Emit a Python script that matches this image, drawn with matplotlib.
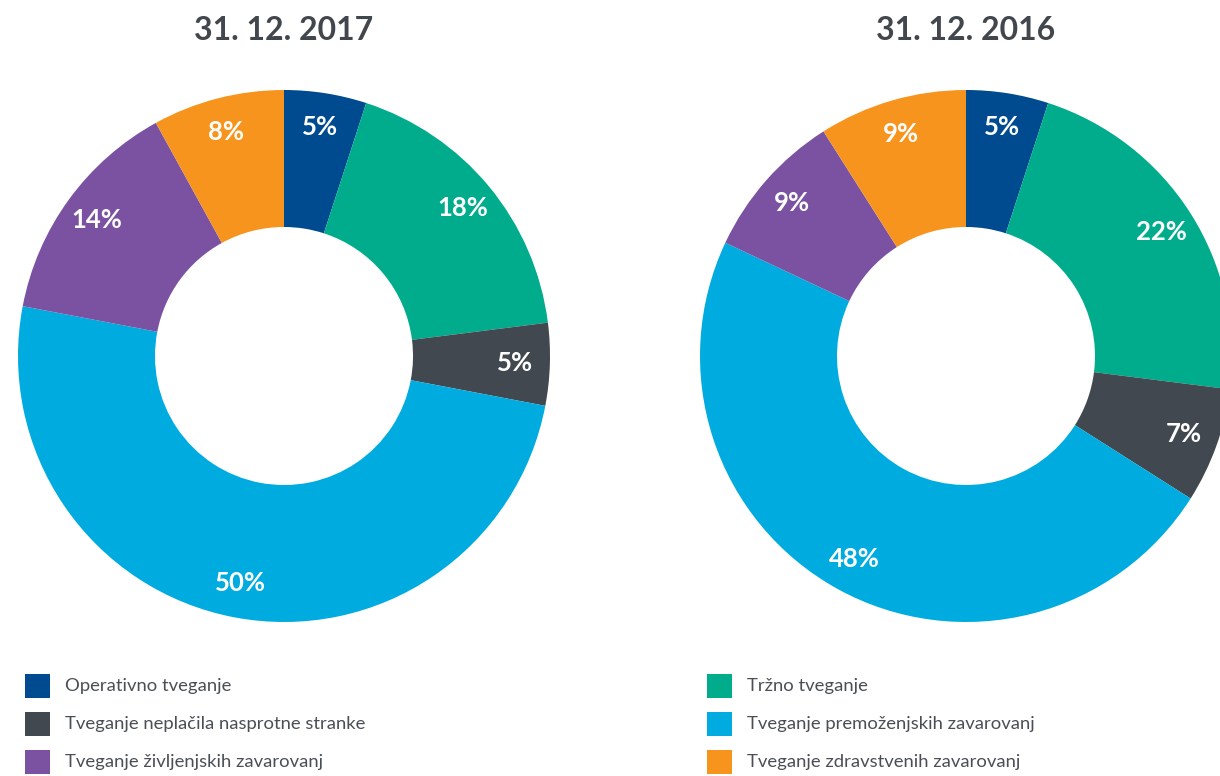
import matplotlib
matplotlib.use("Agg")
import matplotlib.pyplot as plt
from matplotlib.patches import Rectangle

categories = ["Operativno tveganje", "Tržno tveganje", "Tveganje neplačila nasprotne stranke",
              "Tveganje premoženjskih zavarovanj", "Tveganje življenjskih zavarovanj",
              "Tveganje zdravstvenih zavarovanj"]
values_2017 = [5, 18, 5, 50, 14, 8]
values_2016 = [5, 22, 7, 48, 9, 9]
titles = ["31. 12. 2017", "31. 12. 2016"]
colors = ["#004a8f", "#00ac8c", "#41484f", "#00acdf", "#7b52a1", "#f7941e"]

legend_left = [0, 2, 4]
legend_right = [1, 3, 5]

W, H = 1220, 776
fig = plt.figure(figsize=(W / 100, H / 100), dpi=100)
ax = fig.add_axes([0, 0, 1, 1])

R = 266
centers = [(284, H - 356), (966, H - 356)]
text_color = "#41474d"

for (cx, cy), vals, title in zip(centers, [values_2017, values_2016], titles):
    wedges, texts, autotexts = ax.pie(
        vals, colors=colors, startangle=90, counterclock=False,
        center=(cx, cy), radius=R, autopct=lambda p: f"{p:.0f}%",
        pctdistance=0.87, wedgeprops=dict(width=R * 0.515, linewidth=0),
        textprops=dict(color="white", fontsize=18.5, fontweight="bold", family="Lato"),
        frame=True)
    ax.text(cx, H - 31, title, ha="center", va="center", fontsize=23,
            fontweight="bold", family="Lato", color=text_color)

ax.set_xlim(0, W)
ax.set_ylim(0, H)
ax.set_aspect("equal")
ax.axis("off")

rows_y = [686, 724, 762]
for col_x, idxs in [(25, legend_left), (707, legend_right)]:
    for y, i in zip(rows_y, idxs):
        ax.add_patch(Rectangle((col_x, H - y - 12), 25, 24, color=colors[i], lw=0))
        ax.text(col_x + 40, H - y, categories[i], ha="left", va="center",
                fontsize=13.3, family="Lato", fontweight="normal", color="#4a4f55")

fig.savefig("out.png", dpi=100)
